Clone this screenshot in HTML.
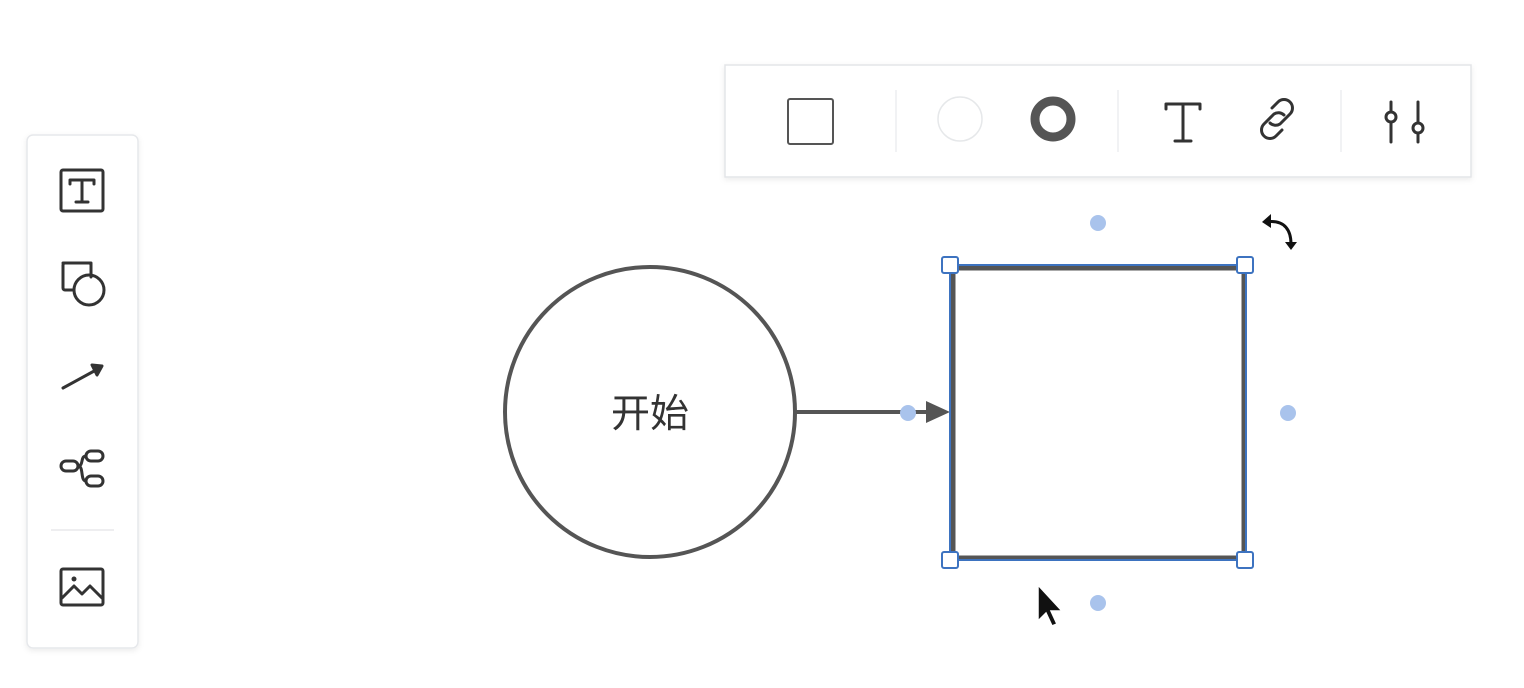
<!DOCTYPE html>
<html><head><meta charset="utf-8"><style>
html,body{margin:0;padding:0;background:#fff;width:1524px;height:688px;overflow:hidden}
svg{display:block}
</style></head><body>
<svg width="1524" height="688" viewBox="0 0 1524 688" xmlns="http://www.w3.org/2000/svg">
<defs><filter id="sh" x="-10%" y="-10%" width="120%" height="130%"><feDropShadow dx="0" dy="2" stdDeviation="3" flood-color="#000" flood-opacity="0.08"/></filter></defs>
<rect x="27" y="135" width="111" height="513" rx="6" fill="#fff" stroke="#e6e8eb" stroke-width="1.5" filter="url(#sh)"/>
<g stroke="#333" stroke-width="3" fill="none" stroke-linecap="round" stroke-linejoin="round">
<rect x="61" y="170" width="42" height="41" rx="2"/>
<path d="M70 180h24M70 180v4M94 180v4M82 180v22M76 202h12"/>
<rect x="63" y="263" width="28" height="27" rx="2"/>
<circle cx="89" cy="290" r="15" fill="#fff"/>
<path d="M63 263h28v14" />
<path d="M63 388L96 370"/>
<path d="M92 365l10 1-5 9z" fill="#333"/>
<rect x="61" y="461" width="17" height="10" rx="5"/>
<rect x="86" y="451" width="17" height="10" rx="5"/>
<rect x="86" y="476" width="17" height="10" rx="5"/>
<path d="M78 466c6 0 2-10 8-10M78 466c6 0 2 15 8 15"/>
<rect x="61" y="569" width="42" height="36" rx="2"/>
<path d="M62 598l12-12 8 8 8-8 12 12"/>
</g>
<circle cx="74" cy="579" r="2.5" fill="#333"/>
<line x1="51" y1="530" x2="114" y2="530" stroke="#e8e9ec" stroke-width="1.5"/>
<rect x="725" y="65" width="746" height="112" fill="#fff" stroke="#e3e5e8" stroke-width="1.5" filter="url(#sh)"/>
<rect x="788" y="99" width="45" height="45" rx="2" fill="none" stroke="#555" stroke-width="2"/>
<g stroke="#eceef0" stroke-width="1.5"><line x1="896" y1="90" x2="896" y2="152"/><line x1="1118" y1="90" x2="1118" y2="152"/><line x1="1341" y1="90" x2="1341" y2="152"/></g>
<circle cx="960" cy="119" r="22" fill="none" stroke="#e6e8ea" stroke-width="1.5"/>
<circle cx="1053" cy="119" r="18" fill="none" stroke="#555" stroke-width="9"/>
<g stroke="#333" stroke-width="3" fill="none" stroke-linecap="round">
<path d="M1166 104h34M1166 104v5M1200 104v5M1183 104v37M1175 141h16"/>
<path d="M1272 108l6-6a8 8 0 0 1 12 12l-10 10a8 8 0 0 1-10-1"/>
<path d="M1282 130l-6 6a8 8 0 0 1-12-12l10-10a8 8 0 0 1 10 1"/>
<path d="M1391 102v40M1418 102v40"/>
</g>
<circle cx="1391" cy="117" r="5" fill="#fff" stroke="#333" stroke-width="3"/>
<circle cx="1418" cy="128" r="5" fill="#fff" stroke="#333" stroke-width="3"/>
<path d="M1266 222c20-3 25 10 25 22" fill="none" stroke="#111" stroke-width="3"/>
<path d="M1262 222l9-8v14z" fill="#111"/>
<path d="M1285 242l12 0-6 8z" fill="#111"/>
<circle cx="650" cy="412" r="145" fill="#fff" stroke="#555" stroke-width="4"/>
<text x="650" y="427" text-anchor="middle" font-family="Liberation Sans, Noto Sans CJK SC, sans-serif" font-size="39" fill="#333">开始</text>
<line x1="796" y1="412" x2="930" y2="412" stroke="#555" stroke-width="4"/>
<path d="M926 401l24 11-24 11z" fill="#555"/>
<rect x="953" y="268" width="291" height="290" fill="#fff" stroke="#555" stroke-width="5"/>
<rect x="950" y="265" width="296" height="295" fill="none" stroke="#3d73c0" stroke-width="2"/>
<g fill="#fff" stroke="#3d73c0" stroke-width="2">
<rect x="942" y="257" width="16" height="16" rx="2"/><rect x="1237" y="257" width="16" height="16" rx="2"/>
<rect x="942" y="552" width="16" height="16" rx="2"/><rect x="1237" y="552" width="16" height="16" rx="2"/>
</g>
<g fill="#a9c3ec"><circle cx="1098" cy="223" r="8"/><circle cx="908" cy="413" r="8"/><circle cx="1288" cy="413" r="8"/><circle cx="1098" cy="603" r="8"/></g>
<path d="M1038 585v36l8-8 6 13 5-2-6-13h11z" fill="#111" stroke="#fff" stroke-width="1.5"/>
</svg>
</body></html>
